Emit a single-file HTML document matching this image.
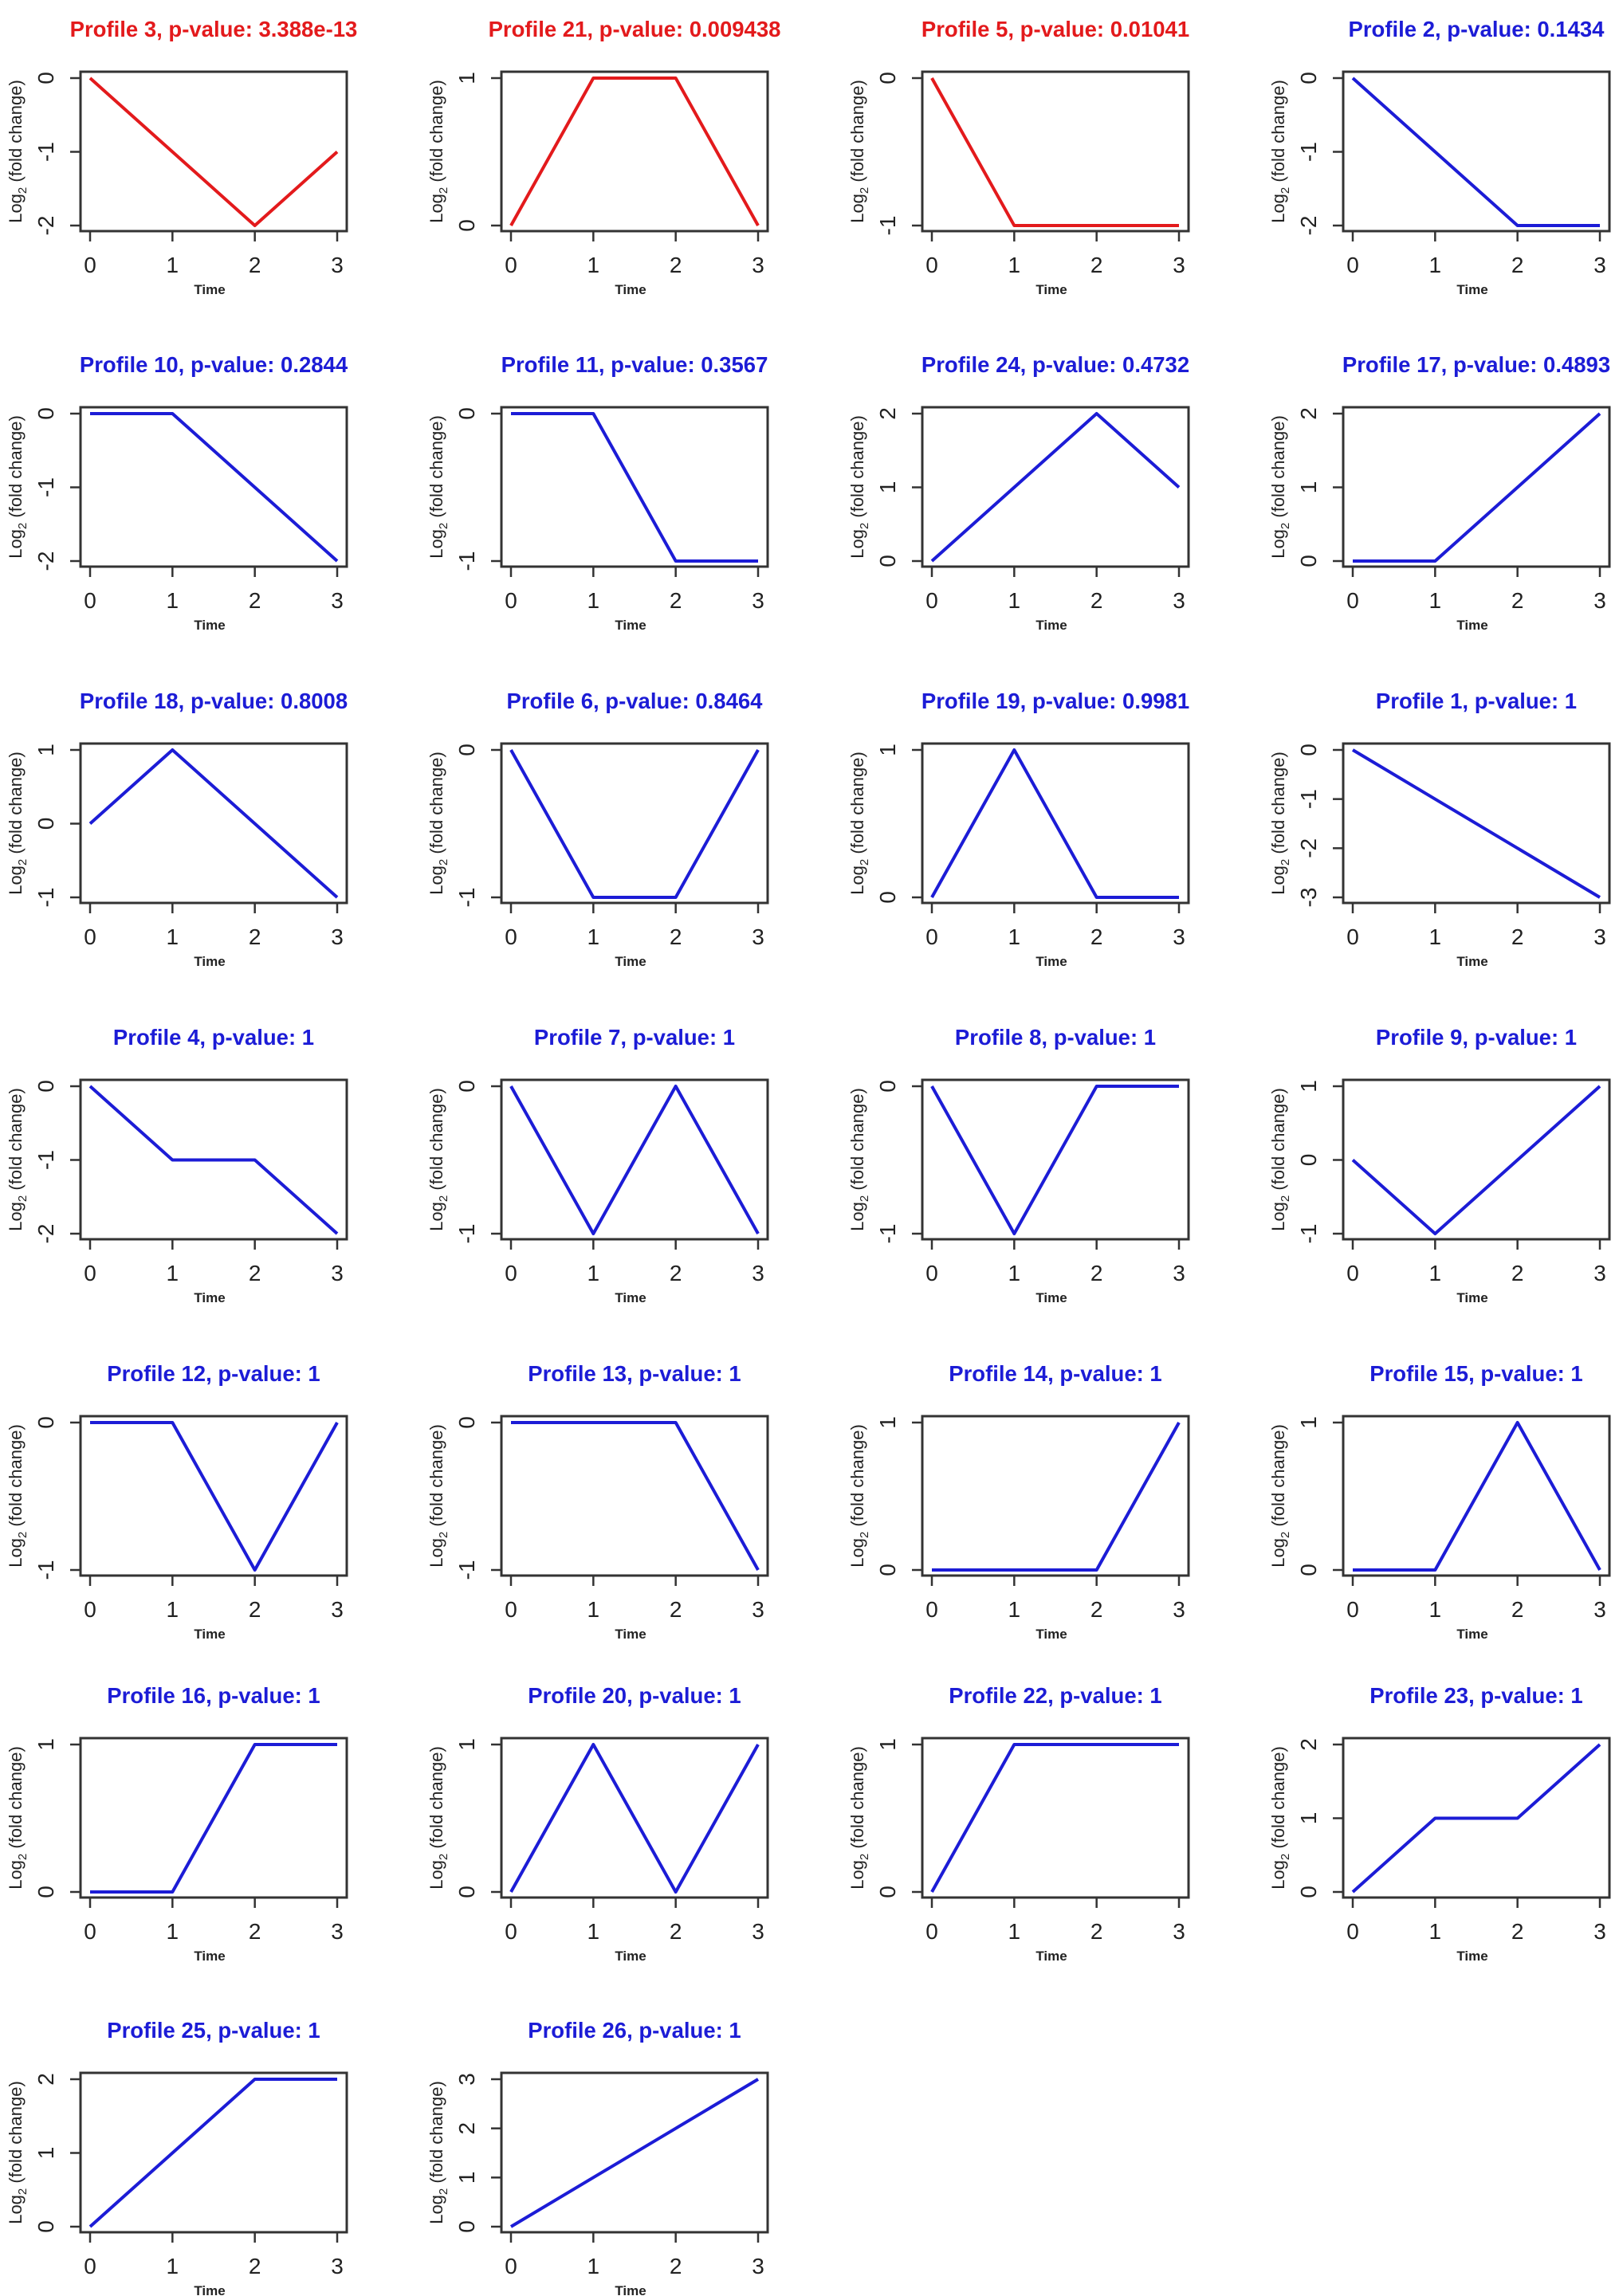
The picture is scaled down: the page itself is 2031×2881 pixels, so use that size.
<!DOCTYPE html>
<html><head><meta charset="utf-8"><style>
html,body{margin:0;padding:0;background:#fff;}
svg{display:block;font-family:"Liberation Sans",Arial,sans-serif;}
</style></head><body>
<svg id="chart" width="2031" height="2881" viewBox="0 0 2031 2881" xmlns="http://www.w3.org/2000/svg"></svg>
<script>
const profileIds = [3,21,5,2,10,11,24,17,18,6,19,1,4,7,8,9,12,13,14,15,16,20,22,23,25,26];
const pValues = ["3.388e-13","0.009438","0.01041","0.1434","0.2844","0.3567","0.4732","0.4893","0.8008","0.8464","0.9981","1","1","1","1","1","1","1","1","1","1","1","1","1","1","1"];
const significant = [true,true,true,false,false,false,false,false,false,false,false,false,false,false,false,false,false,false,false,false,false,false,false,false,false,false];
const timePoints = [0,1,2,3];
const profileValues = [
 [0,-1,-2,-1],[0,1,1,0],[0,-1,-1,-1],[0,-1,-2,-2],
 [0,0,-1,-2],[0,0,-1,-1],[0,1,2,1],[0,0,1,2],
 [0,1,0,-1],[0,-1,-1,0],[0,1,0,0],[0,-1,-2,-3],
 [0,-1,-1,-2],[0,-1,0,-1],[0,-1,0,0],[0,-1,0,1],
 [0,0,-1,0],[0,0,0,-1],[0,0,0,1],[0,0,1,0],
 [0,0,1,1],[0,1,0,1],[0,1,1,1],[0,1,1,2],
 [0,1,2,2],[0,1,2,3]
];
const svg = document.getElementById('chart');
const NS = 'http://www.w3.org/2000/svg';
const colLeft = [101,629,1157,1685];
const rowTop = [90,511,933,1355,1777,2181,2601];
const BW = 334, BH = 200;
function mk(tag, attrs, parent){ const e=document.createElementNS(NS,tag); for(const k in attrs) e.setAttribute(k,attrs[k]); (parent||svg).appendChild(e); return e; }
profileIds.forEach((pid, i) => {
  const r = Math.floor(i/4), c = i%4;
  const L = colLeft[c], T = rowTop[r];
  const vals = profileValues[i];
  const ymin = Math.min(...vals), ymax = Math.max(...vals);
  const xs = v => L + 12 + (v - timePoints[0])/(timePoints[timePoints.length-1]-timePoints[0])*(BW-24);
  const ys = v => (T + BH - 7) - (v - ymin)/((ymax-ymin)||1)*(BH-15);
  const col = significant[i] ? '#e31a1c' : '#1c1cd6';
  const g = mk('g', {});
  
  
  const t = mk('text', {x: L+BW/2, y: T-44, 'text-anchor':'middle', 'font-size':27.5, 'font-weight':'bold', fill: col}, g);
  t.textContent = 'Profile ' + pid + ', p-value: ' + pValues[i];
  
  
  const box = mk('rect', {x:L, y:T, width:BW, height:BH, fill:'none', stroke:'#333', 'stroke-width':3}, g);
  
  
  timePoints.forEach(tp => {
    const x = xs(tp);
    const tk = mk('line', {x1:x, y1:T+BH, x2:x, y2:T+BH+13, stroke:'#333', 'stroke-width':2.5}, g);
    
    
    const lb = mk('text', {x:x, y:T+BH+52, 'text-anchor':'middle', 'font-size':28, fill:'#222'}, g);
    lb.textContent = String(tp);
    
    
  });
  const xt = mk('text', {x:L+BW/2-5, y:T+BH+79, 'text-anchor':'middle', 'font-size':17, 'font-weight':'bold', fill:'#222'}, g);
  xt.textContent = 'Time';
  
  
  for (let v = ymin; v <= ymax; v++) {
    const y = ys(v);
    const tk = mk('line', {x1:L, y1:y, x2:L-13, y2:y, stroke:'#333', 'stroke-width':2.5}, g);
    
    
    const lb = mk('text', {x:0, y:0, 'text-anchor':'middle', 'font-size':28, fill:'#222', transform:'translate('+(L-34)+','+y+') rotate(-90)'}, g);
    lb.textContent = String(v);
    
    
  }
  const yt = mk('text', {x:0, y:0, 'text-anchor':'middle', 'font-size':22, fill:'#222', transform:'translate('+(L-74)+','+(T+BH/2)+') rotate(-90)'}, g);
  
  
  const s1 = mk('tspan', {}, yt); s1.textContent = 'Log';
  const s2 = mk('tspan', {dy:6, 'font-size':15}, yt); s2.textContent = '2';
  const s3 = mk('tspan', {dy:-6}, yt); s3.textContent = ' (fold change)';
  const pts = vals.map((v,k) => xs(timePoints[k]) + ',' + ys(v)).join(' ');
  const pl = mk('polyline', {points: pts, fill:'none', stroke: col, 'stroke-width':4, 'stroke-linejoin':'round'}, g);
  
  
});
</script>
</body></html>
